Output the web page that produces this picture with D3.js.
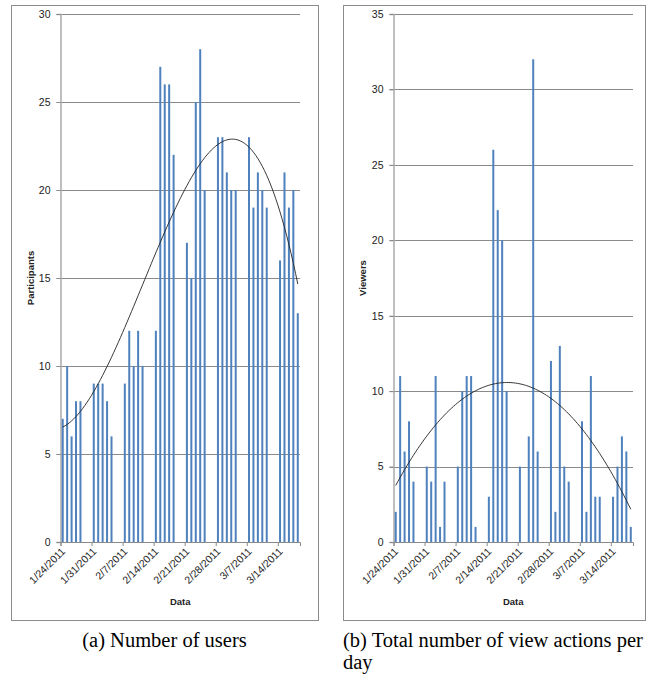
<!DOCTYPE html>
<html>
<head>
<meta charset="utf-8">
<script src="https://cdn.jsdelivr.net/npm/d3@7"></script>
<style>
  body { margin: 0; background: #fff; }
  svg { display: block; }
</style>
</head>
<body>
<svg id="chart" width="652" height="675"></svg>
<script>
// weekdays with data (weekends have no bar)
var dates = [
  "1/24/2011","1/25/2011","1/26/2011","1/27/2011","1/28/2011",
  "1/31/2011","2/1/2011","2/2/2011","2/3/2011","2/4/2011",
  "2/7/2011","2/8/2011","2/9/2011","2/10/2011","2/11/2011",
  "2/14/2011","2/15/2011","2/16/2011","2/17/2011","2/18/2011",
  "2/21/2011","2/22/2011","2/23/2011","2/24/2011","2/25/2011",
  "2/28/2011","3/1/2011","3/2/2011","3/3/2011","3/4/2011",
  "3/7/2011","3/8/2011","3/9/2011","3/10/2011","3/11/2011",
  "3/14/2011","3/15/2011","3/16/2011","3/17/2011","3/18/2011"
];

var participants = [
  7, 10, 6, 8, 8,
  9, 9, 9, 8, 6,
  9, 12, 10, 12, 10,
  12, 27, 26, 26, 22,
  17, 15, 25, 28, 20,
  23, 23, 21, 20, 20,
  23, 19, 21, 20, 19,
  16, 21, 19, 20, 13
];

var viewers = [
  2, 11, 6, 8, 4,
  5, 4, 11, 1, 4,
  5, 10, 11, 11, 1,
  3, 26, 22, 20, 10,
  5, 0, 7, 32, 6,
  12, 2, 13, 5, 4,
  8, 2, 11, 3, 3,
  3, 5, 7, 6, 1
];

var tickDates = ["1/24/2011","1/31/2011","2/7/2011","2/14/2011","2/21/2011","2/28/2011","3/7/2011","3/14/2011"];
var firstDay = "1/24/2011";
var endDay = "3/19/2011"; // end of the last day slot

var parseDate = d3.timeParse("%m/%d/%Y");
var svg = d3.select("#chart");

// least squares polynomial fit (like the Excel trendline)
function polyFit(xs, ys, order) {
  var n = order + 1;
  var A = [];
  for (var r = 0; r < n; r++) {
    A.push([]);
    for (var c = 0; c <= n; c++) A[r].push(0);
  }
  xs.forEach(function(x, k) {
    for (var r = 0; r < n; r++) {
      for (var c = 0; c < n; c++) A[r][c] += Math.pow(x, r + c);
      A[r][n] += ys[k] * Math.pow(x, r);
    }
  });
  for (var i = 0; i < n; i++) {
    var p = i;
    for (var j = i + 1; j < n; j++) if (Math.abs(A[j][i]) > Math.abs(A[p][i])) p = j;
    var t = A[i]; A[i] = A[p]; A[p] = t;
    for (var j = i + 1; j < n; j++) {
      var f = A[j][i] / A[i][i];
      for (var c = i; c <= n; c++) A[j][c] -= f * A[i][c];
    }
  }
  var coef = new Array(n).fill(0);
  for (var i = n - 1; i >= 0; i--) {
    var s = A[i][n];
    for (var c = i + 1; c < n; c++) s -= A[i][c] * coef[c];
    coef[i] = s / A[i][i];
  }
  return function(x) {
    var v = 0;
    for (var i = 0; i < n; i++) v += coef[i] * Math.pow(x, i);
    return v;
  };
}

function drawPanel(opt) {
  var g = svg.append("g");

  // frame
  g.append("rect")
    .attr("x", opt.frame[0] + 0.5).attr("y", opt.frame[1] + 0.5)
    .attr("width", opt.frame[2] - opt.frame[0]).attr("height", opt.frame[3] - opt.frame[1])
    .attr("fill", "none").attr("stroke", "#8c8c8c").attr("stroke-width", 1);

  var xScale = d3.scaleTime()
    .domain([parseDate(firstDay), parseDate(endDay)])
    .range([opt.left, opt.right]);
  var yScale = d3.scaleLinear().domain([0, opt.max]).range([opt.bottom, opt.top]);

  var halfDay = (xScale(d3.timeDay.offset(parseDate(firstDay), 1)) - xScale(parseDate(firstDay))) / 2;

  // gridlines
  g.append("g").selectAll("line")
    .data(d3.range(5, opt.max + 1, 5))
    .enter().append("line")
    .attr("x1", opt.left - 4).attr("x2", opt.right)
    .attr("y1", function(d) { return Math.round(yScale(d)) + 0.5; })
    .attr("y2", function(d) { return Math.round(yScale(d)) + 0.5; })
    .attr("stroke", "#8a8a8a").attr("stroke-width", 1);

  // y axis
  var yAxis = d3.axisLeft(yScale).tickValues(d3.range(0, opt.max + 1, 5)).tickSize(4).tickPadding(6);
  var ya = g.append("g").attr("transform", "translate(" + opt.left + ",0)").call(yAxis);
  ya.select(".domain").attr("stroke", "#aaaaaa").attr("stroke-width", 1.5);
  ya.selectAll(".tick line").attr("stroke", "#8a8a8a");
  ya.selectAll("text").attr("font-family", "Liberation Sans, Arial, sans-serif")
    .attr("font-size", 10.5).attr("fill", "#222");

  // x axis
  var xAxis = d3.axisBottom(xScale)
    .tickValues(tickDates.map(parseDate))
    .tickSize(4)
    .tickFormat(d3.timeFormat("%-m/%-d/%Y"));
  var xa = g.append("g").attr("transform", "translate(0," + opt.bottom + ")").call(xAxis);
  xa.select(".domain").attr("stroke", "#8a8a8a").attr("stroke-width", 1);
  xa.selectAll(".tick line").attr("stroke", "#8a8a8a");
  xa.selectAll("text")
    .attr("font-family", "Liberation Sans, Arial, sans-serif")
    .attr("font-size", 10.5).attr("fill", "#222")
    .attr("text-anchor", "end")
    .attr("dy", 0)
    .attr("y", 0)
    .attr("transform", "translate(5,10) rotate(-45)");

  // bars
  var rows = dates.map(function(d, k) { return { date: parseDate(d), value: opt.values[k] }; });
  g.append("g").selectAll("rect")
    .data(rows)
    .enter().append("rect")
    .attr("x", function(d) { return xScale(d.date) + halfDay - 1; })
    .attr("width", 2)
    .attr("y", function(d) { return yScale(d.value); })
    .attr("height", function(d) { return opt.bottom - yScale(d.value); })
    .attr("fill", "#4f81bd");

  // trendline
  var xs = rows.map(function(d) { return d3.timeDay.count(parseDate(firstDay), d.date); });
  var fit = polyFit(xs, opt.values, opt.order);
  var line = d3.line()
    .x(function(t) { return xScale(d3.timeDay.offset(parseDate(firstDay), 0)) + (xScale(parseDate(endDay)) - xScale(parseDate(firstDay))) * t / 54 + halfDay; })
    .y(function(t) { return yScale(fit(t)); })
    .curve(d3.curveMonotoneX);
  g.append("path")
    .datum(d3.range(0, 53.01, 0.5))
    .attr("d", line)
    .attr("fill", "none").attr("stroke", "#222").attr("stroke-width", 0.9);

  // axis titles
  g.append("text")
    .attr("transform", "translate(" + opt.yTitleX + "," + ((opt.top + opt.bottom) / 2) + ") rotate(-90)")
    .attr("text-anchor", "middle")
    .attr("font-family", "Liberation Sans, Arial, sans-serif")
    .attr("font-size", 9.5).attr("font-weight", "bold").attr("fill", "#222")
    .text(opt.yTitle);
  g.append("text")
    .attr("x", (opt.left + opt.right) / 2).attr("y", 605)
    .attr("text-anchor", "middle")
    .attr("font-family", "Liberation Sans, Arial, sans-serif")
    .attr("font-size", 9.5).attr("font-weight", "bold").attr("fill", "#222")
    .text("Data");

  // caption
  var cap = g.append("text")
    .attr("font-family", "Liberation Serif, Times New Roman, serif")
    .attr("font-size", 20.5).attr("fill", "#000");
  opt.caption.forEach(function(s, k) {
    cap.append("tspan")
      .attr("x", opt.capX).attr("y", 647 + k * 22)
      .attr("text-anchor", opt.capAnchor)
      .text(s);
  });
}

drawPanel({
  frame: [11, 5, 318, 620],
  left: 60.5, right: 300, top: 14, bottom: 542,
  max: 30, values: participants, order: 3,
  yTitle: "Participants", yTitleX: 34,
  caption: ["(a) Number of users"], capX: 164.5, capAnchor: "middle"
});

drawPanel({
  frame: [343, 5, 645, 620],
  left: 393.5, right: 633, top: 14, bottom: 542,
  max: 35, values: viewers, order: 2,
  yTitle: "Viewers", yTitleX: 366,
  caption: ["(b) Total number of view actions per", "day"], capX: 343, capAnchor: "start"
});
</script>
</body>
</html>
